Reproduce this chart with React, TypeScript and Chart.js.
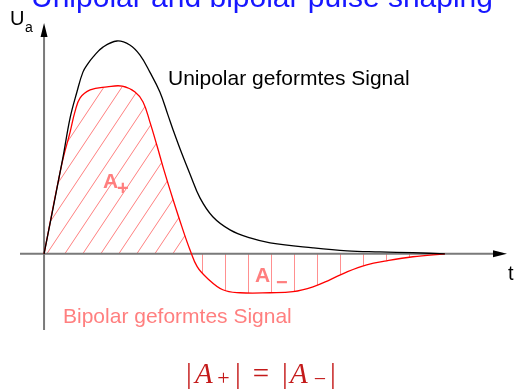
import React, { useEffect, useRef } from "react";
import { Chart, registerables } from "chart.js";

Chart.register(...registerables);

// Time axis (arbitrary units) and output voltage U_a (normalised to the unipolar peak)
const unipolarT = [0, 0.46, 0.65, 0.82, 0.97, 1.1, 1.22, 1.47, 1.82, 2.14, 2.39, 2.64, 2.89, 3.09, 3.22, 3.44, 3.64, 3.89, 4.21, 4.64, 5.14, 5.64, 6.71, 7.56, 8.38, 9.2, 10];
const unipolarU = [0, 0.443, 0.642, 0.764, 0.858, 0.899, 0.929, 0.976, 1.005, 0.986, 0.939, 0.858, 0.764, 0.656, 0.585, 0.472, 0.377, 0.264, 0.175, 0.113, 0.075, 0.052, 0.028, 0.014, 0.009, 0.005, 0];

const bipolarT = [0, 0.45, 0.65, 0.77, 0.9, 1.15, 1.57, 1.95, 2.27, 2.47, 2.64, 2.82, 2.99, 3.22, 3.44, 3.64, 3.82, 4.06, 4.46, 4.89, 5.64, 6.21, 6.71, 7.13, 7.56, 8.05, 8.55, 9.2, 10];
const bipolarU = [0, 0.429, 0.575, 0.67, 0.736, 0.774, 0.788, 0.792, 0.764, 0.717, 0.623, 0.509, 0.396, 0.255, 0.127, 0.019, -0.061, -0.113, -0.17, -0.184, -0.184, -0.179, -0.156, -0.123, -0.085, -0.052, -0.033, -0.014, 0];

const title = "Unipolar and bipolar pulse shaping";
const unipolarLabel = "Unipolar geformtes Signal";
const bipolarLabel = "Bipolar geformtes Signal";

const SANS = "'Liberation Sans', Arial, Helvetica, sans-serif";
const SERIF = "'Liberation Serif', 'Times New Roman', serif";

// Diagonal hatching for the positive lobe
function diagonalHatch(ctx: CanvasRenderingContext2D): CanvasPattern | string {
  const w = 18, h = 27;
  const c = document.createElement("canvas");
  c.width = w; c.height = h;
  const g = c.getContext("2d")!;
  g.strokeStyle = "rgba(255,60,60,0.65)";
  g.lineWidth = 1;
  g.beginPath();
  g.moveTo(-w, h); g.lineTo(0, 0);
  g.moveTo(0, h); g.lineTo(w, 0);
  g.moveTo(w, h); g.lineTo(2 * w, 0);
  g.stroke();
  return ctx.createPattern(c, "repeat") || "rgba(255,0,0,0.2)";
}

// Vertical hatching for the negative lobe
function verticalHatch(ctx: CanvasRenderingContext2D): CanvasPattern | string {
  const w = 23, h = 4;
  const c = document.createElement("canvas");
  c.width = w; c.height = h;
  const g = c.getContext("2d")!;
  g.fillStyle = "rgba(255,70,70,0.6)";
  g.fillRect(18, 0, 1, h);
  return ctx.createPattern(c, "repeat") || "rgba(255,0,0,0.2)";
}

const axesAndLabels = {
  id: "axesAndLabels",
  beforeDatasetsDraw(chart: any) {
    const { ctx, chartArea: a, scales } = chart;
    const x0 = scales.x.getPixelForValue(0);
    const y0 = scales.y.getPixelForValue(0);
    ctx.save();
    ctx.strokeStyle = "#7a7a7a";
    ctx.lineWidth = 2;
    ctx.beginPath();
    ctx.moveTo(a.left, y0);
    ctx.lineTo(a.right - 12, y0);
    ctx.moveTo(x0, a.bottom);
    ctx.lineTo(x0, a.top + 12);
    ctx.stroke();
    ctx.fillStyle = "#000";
    ctx.beginPath();
    ctx.moveTo(a.right, y0);
    ctx.lineTo(a.right - 14, y0 - 3.5);
    ctx.lineTo(a.right - 14, y0 + 3.5);
    ctx.closePath();
    ctx.moveTo(x0, a.top);
    ctx.lineTo(x0 - 3.5, a.top + 14);
    ctx.lineTo(x0 + 3.5, a.top + 14);
    ctx.closePath();
    ctx.fill();
    ctx.restore();
  },
  afterDraw(chart: any) {
    const { ctx } = chart;
    ctx.save();
    ctx.textBaseline = "alphabetic";

    // Title
    ctx.fillStyle = "#1717ff";
    ctx.textAlign = "center";
    ctx.font = `30px ${SANS}`;
    ctx.fillText(title, 262, 6.5);

    // Axis names
    ctx.textAlign = "left";
    ctx.fillStyle = "#000";
    ctx.font = `20px ${SANS}`;
    ctx.fillText("U", 10, 25);
    ctx.font = `14px ${SANS}`;
    ctx.fillText("a", 25, 32);
    ctx.font = `20px ${SANS}`;
    ctx.fillText("t", 508, 280);

    // Curve names
    ctx.font = `21px ${SANS}`;
    ctx.fillStyle = "#000";
    ctx.fillText(unipolarLabel, 168, 85);
    ctx.fillStyle = "#ff7f7f";
    ctx.fillText(bipolarLabel, 63, 323);

    // Area labels
    ctx.fillStyle = "#ff7f7f";
    ctx.font = `bold 21px ${SANS}`;
    ctx.fillText("A", 103, 188);
    ctx.font = `bold 20px ${SANS}`;
    ctx.fillText("+", 117, 194.5);
    ctx.font = `bold 21px ${SANS}`;
    ctx.fillText("A", 255, 282);
    ctx.font = `bold 20px ${SANS}`;
    ctx.fillText("\u2212", 276, 289);

    // |A+| = |A-|
    ctx.fillStyle = "#c41a1a";
    const big = `29px ${SERIF}`;
    const bigItalic = `italic 29px ${SERIF}`;
    const small = `22px ${SERIF}`;
    const put = (s: string, font: string, x: number, y: number, align: string) => {
      ctx.font = font;
      ctx.textAlign = align;
      ctx.fillText(s, x, y);
    };
    put("|", big, 189, 383, "center");
    put("A", bigItalic, 195, 383, "left");
    put("+", small, 223.5, 385, "center");
    put("|", big, 238, 383, "center");
    put("=", big, 261, 383, "center");
    put("|", big, 285, 383, "center");
    put("A", bigItalic, 290, 383, "left");
    put("\u2212", small, 320, 386, "center");
    put("|", big, 333, 383, "center");
    ctx.restore();
  },
};

export default function App() {
  const canvasRef = useRef<HTMLCanvasElement | null>(null);

  useEffect(() => {
    const canvas = canvasRef.current;
    if (!canvas) return;
    const ctx = canvas.getContext("2d")!;
    const chart = new Chart(ctx, {
      type: "line",
      data: {
        datasets: [
          {
            label: unipolarLabel,
            data: unipolarT.map((t, i) => ({ x: t, y: unipolarU[i] })),
            borderColor: "#000",
            borderWidth: 1.3,
            pointRadius: 0,
            tension: 0.4,
            fill: false,
          },
          {
            label: bipolarLabel,
            data: bipolarT.map((t, i) => ({ x: t, y: bipolarU[i] })),
            borderColor: "#ff0000",
            borderWidth: 1.3,
            pointRadius: 0,
            tension: 0.4,
            fill: {
              target: { value: 0 },
              above: diagonalHatch(ctx),
              below: verticalHatch(ctx),
            },
          },
        ],
      },
      options: {
        responsive: false,
        animation: false,
        devicePixelRatio: 1,
        layout: { padding: { left: 20, right: 9, top: 23, bottom: 61 } },
        scales: {
          x: { type: "linear", display: false, min: -0.6, max: 11.55 },
          y: { type: "linear", display: false, min: -0.36, max: 1.09 },
        },
        plugins: {
          legend: { display: false },
          tooltip: { enabled: false },
          filler: { drawTime: "beforeDatasetsDraw" },
        },
      } as any,
      plugins: [axesAndLabels],
    });
    return () => chart.destroy();
  }, []);

  return (
    <div style={{ position: "fixed", left: 0, top: 0, width: 516, height: 391, background: "#fff" }}>
      <canvas ref={canvasRef} width={516} height={391} />
    </div>
  );
}
